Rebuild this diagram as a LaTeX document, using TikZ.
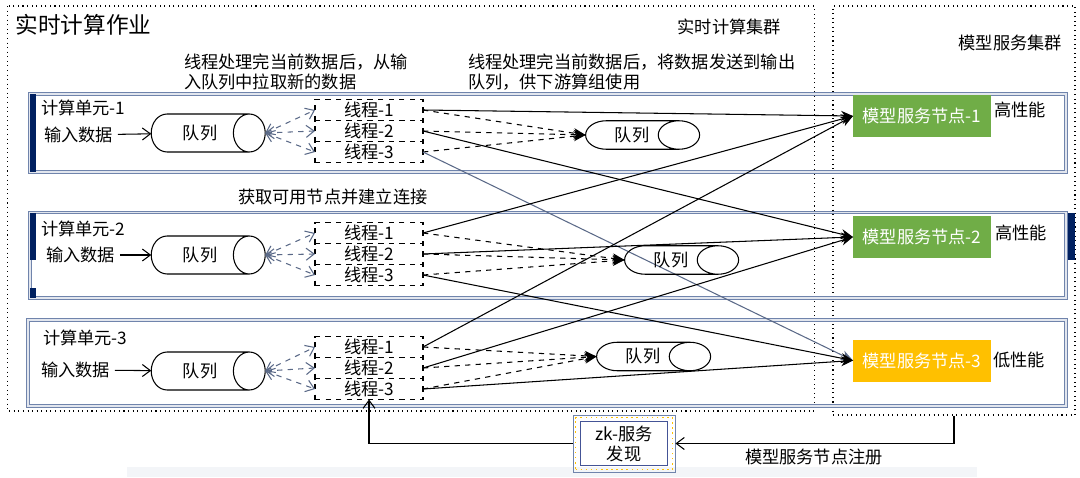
\documentclass[tikz,border=0pt]{standalone}
\usepackage{fontspec}
\setmainfont{Noto Sans CJK SC}
\usetikzlibrary{arrows.meta}
\usetikzlibrary{shapes.geometric}
\usetikzlibrary{positioning}
\usepackage{xcolor}

\definecolor{unitblue}{RGB}{112,132,172}
\definecolor{navybar}{RGB}{0,32,96}
\definecolor{slateline}{RGB}{90,105,135}
\definecolor{nodegreen}{RGB}{112,173,71}
\definecolor{nodeyellow}{RGB}{255,192,0}
\definecolor{bandgray}{RGB}{243,245,248}
\definecolor{zkblue}{RGB}{68,84,150}

\tikzset{
    txt/.style={inner sep=0pt, outer sep=0pt, font=\fontsize{9.8}{11.4}\selectfont},
    unitbox/.style={draw=unitblue, double=unitblue!20, double distance=0.8pt, line width=0.55pt},
    clusterbox/.style={draw, dotted, line width=0.6pt},
    inqueue/.style={txt, draw, cylinder, aspect=2, minimum height=22.8mm, minimum width=7.6mm},
    outqueue/.style={txt, draw, cylinder, aspect=2.6, minimum height=22.8mm, minimum width=5.7mm},
    thread/.style={txt, draw, dashed, minimum width=21.6mm, minimum height=4.2mm},
    model/.style={txt, text=white, minimum width=27.6mm, minimum height=8.4mm},
    pullarrow/.style={dashed, slateline, {Straight Barb[length=1.6mm,width=2.4mm]}-{Straight Barb[length=1.6mm,width=2.4mm]}},
    barb/.style={-{Straight Barb[length=1.6mm,width=2.4mm]}}
}

\begin{document}
\begin{tikzpicture}[x=0.2mm, y=-0.2mm, >={Stealth[length=2.4mm,width=2mm]}, line width=0.6pt]
\useasboundingbox (0,0) rectangle (1080,477);

% frames
\fill[bandgray] (127,467) rectangle (977,477);
\draw[clusterbox] (7.6,6) rectangle (814.5,411);
\node[clusterbox, minimum width=48.4mm, minimum height=81.8mm] (mcluster) at (954,210.5) {};

\draw[unitbox] (30,94) rectangle (1066,172);
\draw[unitbox] (30,212.5) rectangle (1066,298);
\draw[unitbox] (28,320) rectangle (1066,406);
\fill[navybar] (30,94) rectangle (36,172);
\fill[navybar] (30,212.5) rectangle (36,260);
\fill[navybar] (30,288) rectangle (36,298);
\fill[navybar] (1068,213) rectangle (1075,260);

\node[txt, anchor=west, font=\fontsize{12.9}{15}\selectfont] (title) at (15.5,25) {实时计算作业};
\node[txt, anchor=east] (rtcluster) at (781,27) {实时计算集群};
\node[txt, anchor=east] (mscluster) at (1062,43) {模型服务集群};
\node[txt, anchor=west, align=left] (pullnote) at (184,72) {线程处理完当前数据后，从输\\入队列中拉取新的数据};
\node[txt, anchor=west, align=left] (pushnote) at (468,72) {线程处理完当前数据后，将数据发送到输出\\队列，供下游算组使用};
\node[txt, anchor=west] (connnote) at (238,197) {获取可用节点并建立连接};

% model nodes
\node[model, fill=nodegreen] (m1) at (922,116) {模型服务节点-1};
\node[model, fill=nodegreen] (m2) at (922,237) {模型服务节点-2};
\node[model, fill=nodeyellow] (m3) at (922,360.5) {模型服务节点-3};
\node[txt, anchor=west] (p1) at (994,110) {高性能};
\node[txt, anchor=west] (p2) at (995,233) {高性能};
\node[txt, anchor=west] (p3) at (993,360) {低性能};

% compute units
\def\units{1/41/108/44/135/133/99.5/632/135, 2/41/229/46/255/255/222.5/671/260, 3/43/338/41/370/371/336.5/643/356.5}
\foreach \u/\lx/\ly/\ix/\iy/\qy/\ty/\ox/\oy in \units {
    \node[txt, anchor=west] (u\u-name) at (\lx,\ly) {计算单元-\u};
    \node[txt, anchor=west] (u\u-in) at (\ix,\iy) {输入数据};
    \node[inqueue] (u\u-qi) at (200,\qy) {队列};
    \node[thread] (u\u-t1) at (369,\ty+10.5) {线程-1};
    \node[thread, below=0pt of u\u-t1] (u\u-t2) {线程-2};
    \node[thread, below=0pt of u\u-t2] (u\u-t3) {线程-3};
    \node[outqueue] (u\u-qo) at (\ox,\oy) {队列};

    \draw[barb, shorten <=1mm] (u\u-in) -- (u\u-qi);
    \foreach \k in {1,2,3} {
        \draw[pullarrow] (u\u-qi.east) -- (u\u-t\k.west);
        \draw[->, dashed] (u\u-t\k.east) -- (u\u-qo.west);
        \ifnum\u\k=13
            \draw[->, slateline] (u\u-t\k.east) -- (m\k.west);
        \else
            \draw[->] (u\u-t\k.east) -- (m\k.west);
        \fi
    }
}

% service discovery
\node[draw=unitblue, line width=0.5pt, minimum width=20.4mm, minimum height=11.4mm] (zkouter) at (624,443.5) {};
\node[draw=nodeyellow, dotted, line width=0.9pt, minimum width=19.4mm, minimum height=10.4mm] (zkdots) at (624,443.5) {};
\node[txt, draw=zkblue, line width=0.8pt, align=center, minimum width=17.4mm, minimum height=8.8mm] (zk) at (624,443.5) {zk-服务\\发现};
\draw[barb] (mcluster.south) |- (zkouter.east);
\draw[barb] (zkouter.west) -| (u3-t3.south);
\node[txt, anchor=west] (regnote) at (745,457) {模型服务节点注册};

\end{tikzpicture}
\end{document}
